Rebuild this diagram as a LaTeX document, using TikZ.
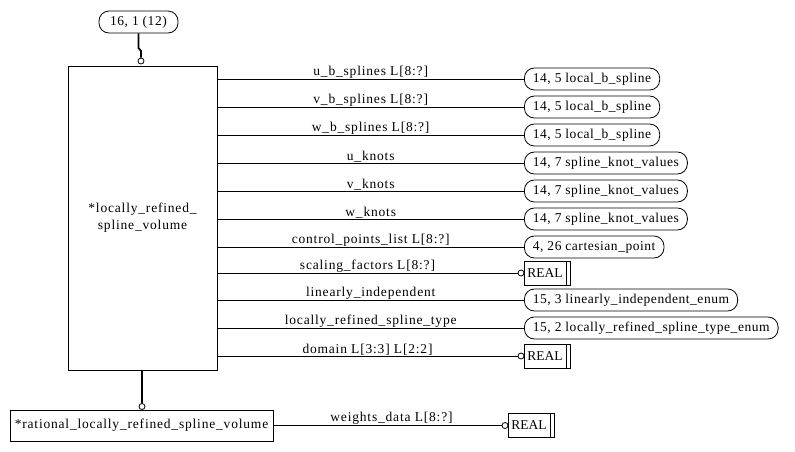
\documentclass[tikz,border=0pt]{standalone}
\usepackage{fontspec}
\setmainfont{Liberation Serif}
\newfontfamily\lblfont[LetterSpace=6]{Liberation Serif}
\newfontfamily\reffont[LetterSpace=4]{Liberation Serif}
\begin{document}
\begin{tikzpicture}[x=1pt,y=-1pt,
  font=\fontsize{13.5}{15}\selectfont,
  ent/.style={draw,line width=0.8pt,inner sep=0pt,font=\fontsize{13.5}{15}\lblfont},
  refbox/.style={draw,line width=0.8pt,rounded corners=10pt,minimum height=22pt,inner xsep=8.5pt,inner ysep=0pt,anchor=west,
    font=\fontsize{13.5}{15}\reffont},
  realbox/.style={draw,line width=0.8pt,minimum height=24pt,minimum width=44pt,inner sep=0pt,anchor=west,
    font=\fontsize{13.5}{15}\selectfont,
    path picture={\draw[line width=0.8pt] ([xshift=-4pt]path picture bounding box.north east) -- ([xshift=-4pt]path picture bounding box.south east);}},
  circ/.style={draw,circle,line width=0.8pt,fill=white,minimum size=6pt,inner sep=0pt},
  conn/.style={line width=0.8pt},
  thick conn/.style={line width=1.8pt},
  lbl/.style={above,inner sep=0.5pt,font=\fontsize{13.5}{15}\lblfont}]
\useasboundingbox (0,0) rectangle (795,451);
% top reference
\node[refbox,anchor=center,minimum width=79pt] (top) at (138.5,22) {16, 1 (12)};
\node[ent,minimum width=149pt,minimum height=304pt,align=center] (main) at (142.5,218)
  {*locally\_refined\_\\[2pt]spline\_volume};
\node[circ] (tc) at (141,61) {};
\coordinate (tj1) at (138.5,48);
\coordinate (tj2) at (141,51);
\draw[thick conn] (top.south) -- (tj1) -- (tj2) -- (tc.north);
% targets
\node[refbox] (t1) at (524,79) {14, 5 local\_b\_spline};
\node[refbox] (t2) at (524,107) {14, 5 local\_b\_spline};
\node[refbox] (t3) at (524,135) {14, 5 local\_b\_spline};
\node[refbox] (t4) at (524,163) {14, 7 spline\_knot\_values};
\node[refbox] (t5) at (524,191) {14, 7 spline\_knot\_values};
\node[refbox] (t6) at (524,219) {14, 7 spline\_knot\_values};
\node[refbox] (t7) at (524,247) {4, 26 cartesian\_point};
\node[circ] (c8) at (521,273) {};
\node[realbox] (t8) at (524,273) {\kern3pt REAL\hfill\kern8pt};
\node[refbox] (t9) at (524,300) {15, 3 linearly\_independent\_enum};
\node[refbox] (t10) at (524,328) {15, 2 locally\_refined\_spline\_type\_enum};
\node[circ] (c11) at (521,356) {};
\node[realbox] (t11) at (524,356) {\kern3pt REAL\hfill\kern8pt};
% attribute connectors
\draw[conn] (main.east |- t1.west) -- node[lbl]{u\_b\_splines L[8:?]} (t1.west);
\draw[conn] (main.east |- t2.west) -- node[lbl]{v\_b\_splines L[8:?]} (t2.west);
\draw[conn] (main.east |- t3.west) -- node[lbl]{w\_b\_splines L[8:?]} (t3.west);
\draw[conn] (main.east |- t4.west) -- node[lbl]{u\_knots} (t4.west);
\draw[conn] (main.east |- t5.west) -- node[lbl]{v\_knots} (t5.west);
\draw[conn] (main.east |- t6.west) -- node[lbl]{w\_knots} (t6.west);
\draw[conn] (main.east |- t7.west) -- node[lbl]{control\_points\_list L[8:?]} (t7.west);
\draw[conn] (main.east |- c8.west) -- node[lbl]{scaling\_factors L[8:?]} (c8.west);
\draw[conn] (main.east |- t9.west) -- node[lbl]{linearly\_independent} (t9.west);
\draw[conn] (main.east |- t10.west) -- node[lbl]{locally\_refined\_spline\_type} (t10.west);
\draw[conn] (main.east |- c11.west) -- node[lbl]{domain L[3:3] L[2:2]} (c11.west);
% subtype
\node[ent,minimum width=263pt,minimum height=31pt] (sub) at (141.5,425.5) {*rational\_locally\_refined\_spline\_volume};
\node[circ] (bc) at (142,406.5) {};
\draw[thick conn] (main.south -| bc) -- (bc.north);
\node[circ] (c12) at (505,425.5) {};
\node[realbox] (t12) at (508,425.5) {\kern3pt REAL\hfill\kern8pt};
\draw[conn] (sub.east) -- node[lbl,xshift=4pt]{weights\_data L[8:?]} (c12.west);
\end{tikzpicture}
\end{document}
